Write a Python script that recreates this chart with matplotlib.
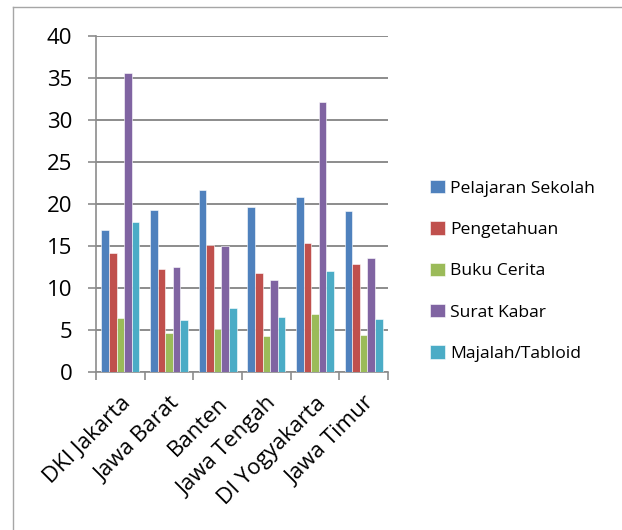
import matplotlib
matplotlib.use("Agg")
import matplotlib.pyplot as plt
import numpy as np
from matplotlib.lines import Line2D

categories = ["DKI Jakarta", "Jawa Barat", "Banten", "Jawa Tengah", "DI Yogyakarta", "Jawa Timur"]
series_names = ["Pelajaran Sekolah", "Pengetahuan", "Buku Cerita", "Surat Kabar", "Majalah/Tabloid"]
pelajaran = [16.9, 19.3, 21.7, 19.7, 20.8, 19.2]
pengetahuan = [14.2, 12.3, 15.1, 11.8, 15.35, 12.85]
buku_cerita = [6.4, 4.6, 5.1, 4.3, 6.9, 4.45]
surat_kabar = [35.6, 12.5, 14.95, 10.95, 32.2, 13.6]
majalah = [17.85, 6.2, 7.65, 6.5, 12.0, 6.35]
y_ticks = [0, 5, 10, 15, 20, 25, 30, 35, 40]

colors = ["#4F81BD", "#C0504D", "#9BBB59", "#8064A2", "#4BACC6"]
data = [pelajaran, pengetahuan, buku_cerita, surat_kabar, majalah]

plt.rcParams['font.family'] = ['Open Sans', 'DejaVu Sans']

fig = plt.figure(figsize=(6.22, 5.30), dpi=100)
ax = fig.add_axes([96/622, 1-372/530, 292/622, 336/530])

n = len(categories)
x = np.arange(n)
bw = 0.156
for i, (vals, c) in enumerate(zip(data, colors)):
    ax.bar(x + (i - 2) * bw, vals, width=bw, color=c, edgecolor="white",
           linewidth=0.4, label=series_names[i], zorder=3)

ax.set_xlim(-0.5, n - 0.5)
ax.set_ylim(0, 40)
ax.set_yticks(y_ticks)
ax.yaxis.grid(True, color="#8c8c8c", linewidth=1.4, zorder=0)
ax.set_axisbelow(True)
for s in ["top", "right"]:
    ax.spines[s].set_visible(False)
ax.spines["left"].set_color("#8c8c8c")
ax.spines["bottom"].set_color("#8c8c8c")
ax.spines["left"].set_linewidth(1.2)
ax.spines["bottom"].set_linewidth(1.2)

ax.set_xticks(np.arange(n + 1) - 0.5, minor=False)
ax.set_xticklabels([])
ax.set_xticks(x, minor=True)
ax.set_xticklabels(categories, minor=True, rotation=45, ha="right",
                   va="top", rotation_mode="anchor", fontsize=16)
ax.tick_params(axis="x", which="major", length=6, color="#8c8c8c", width=1.2)
ax.tick_params(axis="x", which="minor", length=0, pad=15)
ax.tick_params(axis="y", length=6, color="#8c8c8c", width=1.2, labelsize=16, pad=11)

ax.legend(loc="center left", bbox_to_anchor=(414/622, 1-271/530), bbox_transform=fig.transFigure,
          frameon=False, fontsize=12.6, handlelength=0.85, handleheight=0.8,
          labelspacing=1.4, handletextpad=0.3)

# chart-area border (left and top visible)
fig.add_artist(Line2D([13/622, 13/622], [0, 1-7/530], transform=fig.transFigure,
                      color="#a6a6a6", linewidth=1))
fig.add_artist(Line2D([13/622, 1], [1-7/530, 1-7/530], transform=fig.transFigure,
                      color="#a6a6a6", linewidth=1))

fig.savefig("out.png", dpi=100)
